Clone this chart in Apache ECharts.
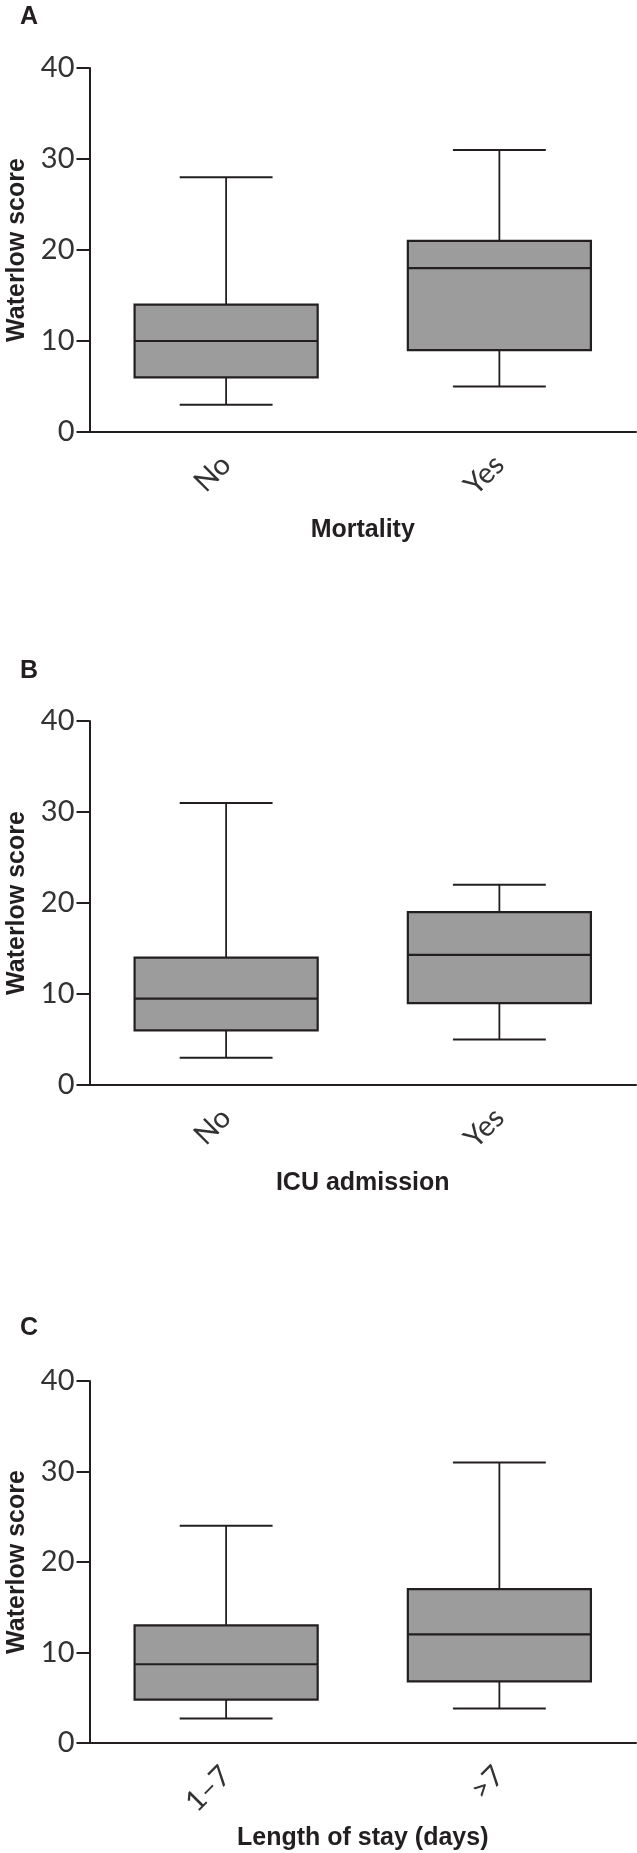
<!DOCTYPE html>
<html>
<head>
<meta charset="utf-8">
<script src="https://cdn.jsdelivr.net/npm/echarts@6/dist/echarts.min.js"></script>
<style>
  html, body { margin: 0; padding: 0; background: #fff; }
  #chart { width: 637px; height: 1853px; }
</style>
</head>
<body>
<div id="chart"></div>
<script>
// panel letters and axis titles
const panelLetters = ["A", "B", "C"];
const xTitles = ["Mortality", "ICU admission", "Length of stay (days)"];
const yTitle = "Waterlow score";

// categories of each panel
const catsA = ["No", "Yes"];
const catsB = ["No", "Yes"];
const catsC = ["1\u20137", ">7"];

// box values: [min, Q1, median, Q3, max]
const boxA = [
  [3, 6, 10, 14, 28],
  [5, 9, 18, 21, 31]
];
const boxB = [
  [3, 6, 9.5, 14, 31],
  [5, 9, 14.3, 19, 22]
];
const boxC = [
  [2.7, 4.8, 8.7, 13, 24],
  [3.8, 6.8, 12, 17, 31]
];

const yTicks = [0, 10, 20, 30, 40];

const cats = [catsA, catsB, catsC];
const boxes = [boxA, boxB, boxC];
const gridTops = [68, 721, 1381];
const gridHeights = [364, 364, 362];
const letterTops = [5, 659, 1316];
const xNameGaps = [86, 86, 83];

const ink = "#231f20";
const lightFont = "Lato, 'Open Sans', 'Liberation Sans', sans-serif";
const boldFont = "'Liberation Sans', Arial, sans-serif";

const chart = echarts.init(document.getElementById("chart"));

function renderBox(params, api) {
  const x = api.value(0);
  const lo = api.coord([x, api.value(1)]);
  const q1 = api.coord([x, api.value(2)]);
  const md = api.coord([x, api.value(3)]);
  const q3 = api.coord([x, api.value(4)]);
  const hi = api.coord([x, api.value(5)]);
  const band = api.size([1, 0])[0];
  const bw = band * 0.67;
  const cw = band * 0.34;
  const cx = lo[0];
  const line = (x1, y1, x2, y2, w) => ({
    type: "line",
    shape: { x1: x1, y1: y1, x2: x2, y2: y2 },
    style: { stroke: ink, lineWidth: w }
  });
  return {
    type: "group",
    children: [
      line(cx, hi[1], cx, q3[1], 1.8),
      line(cx, q1[1], cx, lo[1], 1.8),
      line(cx - cw / 2, hi[1], cx + cw / 2, hi[1], 2),
      line(cx - cw / 2, lo[1], cx + cw / 2, lo[1], 2),
      {
        type: "rect",
        shape: { x: cx - bw / 2, y: q3[1], width: bw, height: q1[1] - q3[1] },
        style: { fill: "#9c9c9c", stroke: ink, lineWidth: 2.2 }
      },
      line(cx - bw / 2, md[1], cx + bw / 2, md[1], 2.2)
    ]
  };
}

const grids = [], xAxes = [], yAxes = [], series = [], titles = [];
for (let i = 0; i < 3; i++) {
  grids.push({
    left: 89.5, right: 1, top: gridTops[i], height: gridHeights[i],
    containLabel: false,
    outerBoundsMode: "none"
  });
  titles.push({
    text: panelLetters[i],
    left: 20,
    top: letterTops[i],
    padding: 0,
    textStyle: { fontFamily: boldFont, fontSize: 25, fontWeight: "bold", color: ink }
  });
  xAxes.push({
    gridIndex: i,
    type: "category",
    data: cats[i],
    name: xTitles[i],
    nameLocation: "middle",
    nameGap: xNameGaps[i],
    nameTextStyle: { fontFamily: boldFont, fontSize: 25, fontWeight: "bold", color: ink },
    axisLine: { lineStyle: { color: ink, width: 2 } },
    axisTick: { alignWithLabel: true, length: 13, lineStyle: { color: ink, width: 2 } },
    axisLabel: {
      rotate: 45,
      margin: 28,
      fontFamily: lightFont,
      fontSize: 29,
      color: "#333"
    },
    splitLine: { show: false }
  });
  yAxes.push({
    gridIndex: i,
    type: "value",
    min: yTicks[0],
    max: yTicks[yTicks.length - 1],
    interval: 10,
    name: yTitle,
    nameLocation: "middle",
    nameGap: 58,
    nameTextStyle: { fontFamily: boldFont, fontSize: 25, fontWeight: "bold", color: ink },
    axisLine: { show: true, lineStyle: { color: ink, width: 2 } },
    axisTick: { show: true, length: 13, lineStyle: { color: ink, width: 2 } },
    axisLabel: { margin: 15, fontFamily: lightFont, fontSize: 29, color: "#333" },
    splitLine: { show: false }
  });
  series.push({
    type: "custom",
    xAxisIndex: i,
    yAxisIndex: i,
    renderItem: renderBox,
    encode: { x: 0, y: [1, 2, 3, 4, 5] },
    data: boxes[i].map((b, k) => [k].concat(b)),
    silent: true
  });
}

chart.setOption({
  animation: false,
  backgroundColor: "#fff",
  title: titles,
  grid: grids,
  xAxis: xAxes,
  yAxis: yAxes,
  series: series
});
</script>
</body>
</html>
